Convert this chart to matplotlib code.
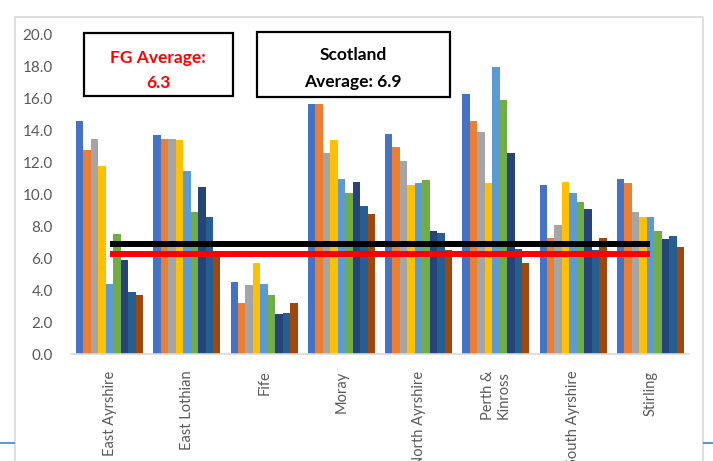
import matplotlib
matplotlib.use("Agg")
import matplotlib.pyplot as plt
from matplotlib.patches import Rectangle
from matplotlib.lines import Line2D
import numpy as np

plt.rcParams['font.family'] = ['Lato', 'DejaVu Sans']

# Council areas
categories = ["East Ayrshire", "East Lothian", "Fife", "Moray", "North Ayrshire",
              "Perth &\nKinross", "South Ayrshire", "Stirling"]

# Nine yearly series per area
series_values = [
    [14.6, 13.7, 4.5, 15.7, 13.8, 16.3, 10.6, 11.0],
    [12.8, 13.5, 3.2, 15.7, 13.0, 14.6, 7.3, 10.7],
    [13.5, 13.5, 4.3, 12.6, 12.1, 13.9, 8.1, 8.9],
    [11.8, 13.4, 5.7, 13.4, 10.6, 10.7, 10.8, 8.6],
    [4.4, 11.5, 4.4, 11.0, 10.7, 18.0, 10.1, 8.6],
    [7.5, 8.9, 3.7, 10.1, 10.9, 15.9, 9.5, 7.7],
    [5.9, 10.5, 2.5, 10.8, 7.7, 12.6, 9.1, 7.2],
    [3.9, 8.6, 2.6, 9.3, 7.6, 6.6, 6.5, 7.4],
    [3.7, 6.4, 3.2, 8.8, 6.5, 5.7, 7.3, 6.7],
]
series_colors = ["#4472C4", "#ED7D31", "#A5A5A5", "#FFC000", "#5B9BD5",
                 "#70AD47", "#264478", "#255E91", "#9E480E"]

fg_average = 6.3
scotland_average = 6.9

yticks = [0, 2, 4, 6, 8, 10, 12, 14, 16, 18, 20]

W, H = 713, 461
fig = plt.figure(figsize=(W / 100, H / 100), dpi=100)
fig.patch.set_facecolor("white")

# outer chart frame
fig.add_artist(Rectangle((15 / W, -0.1), (703 - 15) / W, 1.1 - 17 / H,
                         transform=fig.transFigure, fill=False,
                         edgecolor="#D9D9D9", linewidth=1.2))
fig.add_artist(Line2D([0, 14 / W], [1 - 443 / H] * 2, transform=fig.transFigure,
                      color="#5B9BD5", linewidth=1.5))
fig.add_artist(Line2D([704 / W, 1], [1 - 443 / H] * 2, transform=fig.transFigure,
                      color="#5B9BD5", linewidth=1.5))

left, right, top, bottom = 71, 689, 35, 354
ax = fig.add_axes([left / W, 1 - bottom / H, (right - left) / W, (bottom - top) / H])

x = np.arange(len(categories))
n = len(series_values)
group_w = 0.87
bw = group_w / n
for i, (vals, col) in enumerate(zip(series_values, series_colors)):
    ax.bar(x - group_w / 2 + bw * (i + 0.5), vals, width=bw, color=col, zorder=2)

ax.plot(x, [scotland_average] * len(x), color="black", linewidth=4.3,
        solid_capstyle="butt", zorder=4)
ax.plot(x, [fg_average] * len(x), color="#FF0000", linewidth=4.3,
        solid_capstyle="butt", zorder=4)

ax.set_xlim(-0.5, len(categories) - 0.5)
ax.set_ylim(0, 20)
ax.set_yticks(yticks)
ax.set_yticklabels([f"{v:.1f}" for v in yticks], fontsize=11, color="#595959")
ax.set_xticks(x)
ax.set_xticklabels(categories, rotation=90, fontsize=10.5, color="#595959",
                   ha="center", va="top", multialignment="right")
ax.tick_params(axis="y", length=0, pad=13)
ax.tick_params(axis="x", length=0, pad=12)
for s in ["left", "right", "top"]:
    ax.spines[s].set_visible(False)
ax.spines["bottom"].set_color("#D9D9D9")
ax.spines["bottom"].set_linewidth(1.2)

# annotation boxes
def box(x0, y0, x1, y1):
    fig.add_artist(Rectangle((x0 / W, 1 - y1 / H), (x1 - x0) / W, (y1 - y0) / H,
                             transform=fig.transFigure, facecolor="white",
                             edgecolor="black", linewidth=1.6, zorder=5))

box(84, 33, 233, 96)
fig.text(158 / W, 1 - 58 / H, "FG Average:", color="#FF0000", fontsize=12.5,
         fontweight="bold", ha="center", va="center", zorder=6)
fig.text(158 / W, 1 - 83 / H, f"{fg_average}", color="#FF0000", fontsize=12.5,
         fontweight="bold", ha="center", va="center", zorder=6)

box(257, 32, 450, 97)
fig.text(353 / W, 1 - 55 / H, "Scotland", color="black", fontsize=12.5,
         fontweight="bold", ha="center", va="center", zorder=6)
fig.text(353 / W, 1 - 82 / H, f"Average: {scotland_average}", color="black",
         fontsize=12.5, fontweight="bold", ha="center", va="center", zorder=6)

fig.savefig("out.png", dpi=100)
